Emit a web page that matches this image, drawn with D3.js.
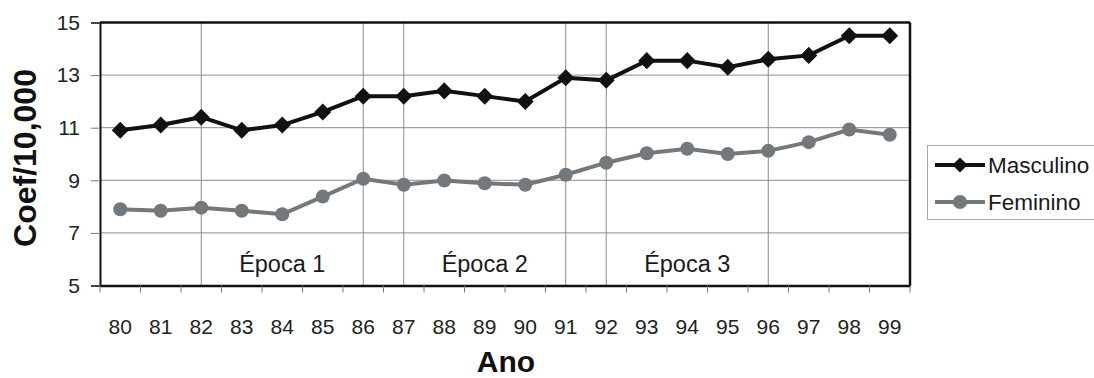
<!DOCTYPE html>
<html><head><meta charset="utf-8">
<script src="https://cdn.jsdelivr.net/npm/d3@7"></script>
<style>body{margin:0;background:#fff}svg{display:block;font-family:"Liberation Sans",Arial,sans-serif}</style>
</head><body><svg id="c" width="1094" height="378"></svg>
<script>
const years = ["80","81","82","83","84","85","86","87","88","89","90","91","92","93","94","95","96","97","98","99"];
const masculino = [10.9,11.1,11.4,10.9,11.1,11.6,12.2,12.2,12.4,12.2,12.0,12.9,12.8,13.55,13.55,13.3,13.6,13.75,14.5,14.5];
const feminino = [7.9,7.84,7.96,7.84,7.71,8.38,9.06,8.83,8.99,8.89,8.83,9.21,9.67,10.03,10.2,10.0,10.12,10.45,10.93,10.73];
const yTicks = [5,7,9,11,13,15];
const epochLines = ["82","86","87","91","92","96"];
const epochs = [{label:"Época 1", from:"82", to:"86"},{label:"Época 2", from:"87", to:"91"},{label:"Época 3", from:"92", to:"96"}];
const seriesNames = ["Masculino","Feminino"];

const svg = d3.select("#c");
const L=100, R=910, T=22.5, B=285.5;
const x = d3.scaleBand().domain(years).range([L,R]);
const y = d3.scaleLinear().domain([5,15]).range([B,T]);
const cx = d => x(d)+x.bandwidth()/2;

// horizontal gridlines
svg.append("g").selectAll("line").data(yTicks.filter(v=>v>5&&v<15)).join("line")
  .attr("x1",L).attr("x2",R).attr("y1",d=>y(d)).attr("y2",d=>y(d))
  .attr("stroke","#8c8c8c").attr("stroke-width",1);
// vertical epoch lines
svg.append("g").selectAll("line").data(epochLines).join("line")
  .attr("x1",d=>cx(d)).attr("x2",d=>cx(d)).attr("y1",T).attr("y2",B)
  .attr("stroke","#8c8c8c").attr("stroke-width",1);

// axes
const yAxis = svg.append("g").attr("transform",`translate(${L},0)`)
  .call(d3.axisLeft(y).tickValues(yTicks).tickSize(9).tickPadding(11));
yAxis.select(".domain").attr("stroke","#111").attr("stroke-width",2);
yAxis.selectAll(".tick line").attr("stroke","#777");
yAxis.selectAll("text").attr("font-size",21).attr("fill","#222").style("font-family","'Liberation Sans',Arial");

const xAxis = svg.append("g").attr("transform",`translate(0,${B})`)
  .call(d3.axisBottom(x).tickSize(0).tickPadding(34));
xAxis.select(".domain").attr("stroke","#111").attr("stroke-width",2.5);
xAxis.selectAll("text").attr("font-size",21).attr("fill","#222").style("font-family","'Liberation Sans',Arial");
// band edge ticks
svg.append("g").selectAll("line").data(years.concat(["end"])).join("line")
  .attr("x1",(d,i)=>i<years.length?x(d):R).attr("x2",(d,i)=>i<years.length?x(d):R)
  .attr("y1",B).attr("y2",B+7).attr("stroke","#777").attr("stroke-width",1);

// top and right border
svg.append("line").attr("x1",L).attr("x2",R).attr("y1",T).attr("y2",T).attr("stroke","#111").attr("stroke-width",2.5);
svg.append("line").attr("x1",R).attr("x2",R).attr("y1",T).attr("y2",B).attr("stroke","#111").attr("stroke-width",2.5);

// epoch labels
svg.append("g").selectAll("text").data(epochs).join("text")
  .attr("x",d=>(cx(d.from)+cx(d.to))/2).attr("y",272)
  .attr("text-anchor","middle").attr("font-size",23.5).attr("fill","#1a1a1a").text(d=>d.label);

// lines
const line = d3.line().x((d,i)=>cx(years[i])).y(d=>y(d));
svg.append("path").datum(feminino).attr("d",line).attr("fill","none").attr("stroke","#72787b").attr("stroke-width",4);
svg.append("g").selectAll("circle").data(feminino).join("circle")
  .attr("cx",(d,i)=>cx(years[i])).attr("cy",d=>y(d)).attr("r",7).attr("fill","#72787b");
svg.append("path").datum(masculino).attr("d",line).attr("fill","none").attr("stroke","#111").attr("stroke-width",4);
svg.append("g").selectAll("path").data(masculino).join("path")
  .attr("transform",(d,i)=>`translate(${cx(years[i])},${y(d)}) rotate(45)`)
  .attr("d",d3.symbol().type(d3.symbolSquare).size(145)()).attr("fill","#111");

// axis titles
svg.append("text").attr("transform","translate(36,158) rotate(-90)").attr("text-anchor","middle")
  .attr("font-size",32).attr("font-weight","bold").attr("fill","#111").text("Coef/10,000");
svg.append("text").attr("x",506).attr("y",372).attr("text-anchor","middle")
  .attr("font-size",30).attr("font-weight","bold").attr("fill","#111").text("Ano");

// legend
const lg = svg.append("g");
lg.append("rect").attr("x",927.5).attr("y",145.5).attr("width",200).attr("height",74).attr("fill","#fff").attr("stroke","#aaa");
const colors=["#111","#72787b"];
seriesNames.forEach((n,i)=>{
  const yy = 165+i*37;
  lg.append("line").attr("x1",935).attr("x2",985).attr("y1",yy).attr("y2",yy).attr("stroke",colors[i]).attr("stroke-width",4);
  if(i===0) lg.append("path").attr("transform",`translate(960,${yy}) rotate(45)`).attr("d",d3.symbol().type(d3.symbolSquare).size(115)()).attr("fill",colors[i]);
  else lg.append("circle").attr("cx",960).attr("cy",yy).attr("r",7).attr("fill",colors[i]);
  lg.append("text").attr("x",988).attr("y",yy+7.5).attr("font-size",22.5).attr("fill","#1a1a1a").text(n);
});
</script></body></html>
